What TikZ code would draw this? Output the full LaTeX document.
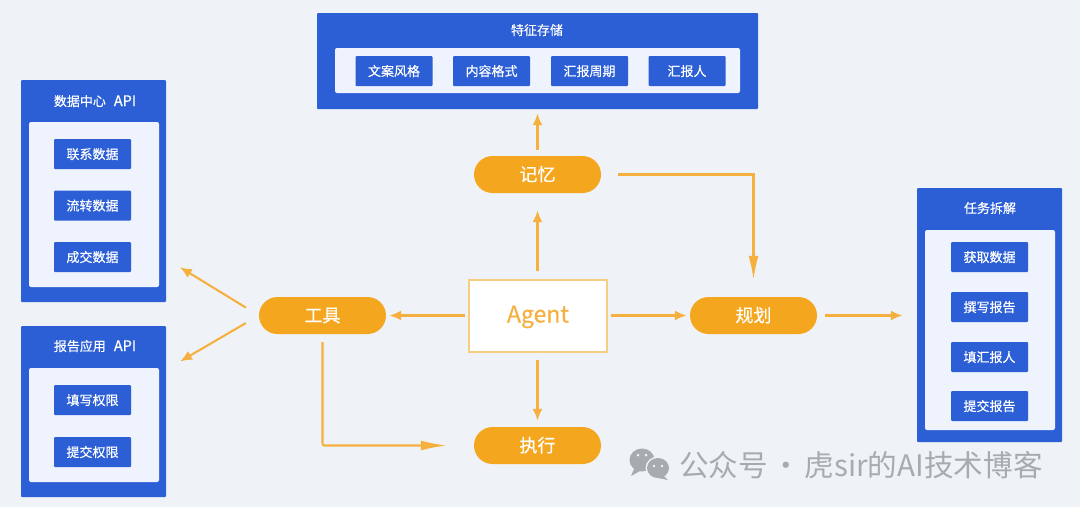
\documentclass[tikz,border=0pt]{standalone}
\usepackage{fontspec}
\setmainfont{Noto Sans CJK SC}
\newfontfamily\heavyfont[FakeBold=0.35]{Noto Sans CJK SC}
\definecolor{PanelBlue}{RGB}{44,95,214}
\definecolor{PanelLight}{RGB}{238,243,253}
\definecolor{PillOrange}{RGB}{245,166,31}
\definecolor{FlowOrange}{RGB}{245,176,64}
\definecolor{AgentBorder}{RGB}{247,205,130}
\definecolor{PageGray}{RGB}{239,243,248}
\definecolor{MarkGray}{RGB}{168,171,173}
\usetikzlibrary{arrows.meta,positioning}
\tikzset{>={Latex[length=12pt,width=10pt]}}
\tikzset{
    outerbox/.style={fill=PanelBlue,rounded corners=1pt,inner sep=0pt},
    innerbox/.style={fill=PanelLight,rounded corners=2pt,inner sep=0pt},
    itembox/.style={fill=PanelBlue,rounded corners=1pt,inner sep=0pt,minimum width=77pt,minimum height=30pt,text=white,text height=11pt,text depth=1pt,font=\heavyfont\fontsize{13}{13}\selectfont},
    boxtitle/.style={text=white,inner sep=0pt,text height=11pt,text depth=1pt,font=\heavyfont\fontsize{13}{13}\selectfont},
    pill/.style={fill=PillOrange,rounded corners=18.5pt,inner sep=0pt,minimum width=127pt,minimum height=37pt,text=white,text height=15pt,text depth=2pt,font=\heavyfont\fontsize{18}{18}\selectfont},
    flow/.style={->,FlowOrange,line width=2.1pt},
}
\newcommand{\apilabel}{\hspace{8pt}{\fontsize{14.5}{14.5}\selectfont API}}
\begin{document}
\begin{tikzpicture}[x=1pt,y=-1pt]
        % page
        \fill[PageGray] (0,0) rectangle (1080,507);
        \useasboundingbox (0,0) rectangle (1080,507);
        % centre
        \node[draw=AgentBorder,fill=white,line width=1.1pt,minimum width=138pt,minimum height=72pt,inner sep=0pt,text=FlowOrange,text height=16pt,text depth=3pt,font=\heavyfont\fontsize{23}{23}\selectfont] at (538,316) (agent) {Agent};
        \node[pill] at (537.5,174.5) (memory) {记忆};
        \node[pill] at (322.5,315.5) (tool) {工具};
        \node[pill] at (753.5,315.5) (plan) {规划};
        \node[pill] at (537.5,445.5) (exec) {执行};
        % top panel
        \node[outerbox,minimum width=441pt,minimum height=96pt] at (537.5,61) (store) {};
        \node[innerbox,minimum width=405pt,minimum height=45pt] at (537.5,70.5) (storein) {};
        \node[boxtitle] at (537,30) (storetitle) {特征存储};
        \node[itembox] at (394,71) (style) {文案风格};
        \node[itembox] at (491.5,71) (format) {内容格式};
        \node[itembox] at (589.5,71) (cycle) {汇报周期};
        \node[itembox] at (687,71) (reporter) {汇报人};
        % left panels
        \node[outerbox,minimum width=145pt,minimum height=222pt] at (93.5,191) (data) {};
        \node[innerbox,minimum width=130pt,minimum height=165pt] at (94,204.5) (datain) {};
        \node[boxtitle] at (95,101) (datatitle) {数据中心\apilabel};
        \node[itembox] at (92.5,154) (contact) {联系数据};
        \node[itembox] at (92.5,205.5) (transfer) {流转数据};
        \node[itembox] at (92.5,257) (deal) {成交数据};
        \node[outerbox,minimum width=145pt,minimum height=171pt] at (93.5,411.5) (report) {};
        \node[innerbox,minimum width=130pt,minimum height=114pt] at (94,425) (reportin) {};
        \node[boxtitle] at (95,346) (reporttitle) {报告应用\apilabel};
        \node[itembox] at (92.5,400) (writeperm) {填写权限};
        \node[itembox] at (92.5,452) (submitperm) {提交权限};
        % right panel
        \node[outerbox,minimum width=145pt,minimum height=254pt] at (989.5,315) (task) {};
        \node[innerbox,minimum width=130pt,minimum height=200pt] at (990,330) (taskin) {};
        \node[boxtitle] at (990,208) (tasktitle) {任务拆解};
        \node[itembox] at (989.5,257) (fetch) {获取数据};
        \node[itembox] at (989.5,307) (draft) {撰写报告};
        \node[itembox] at (989.5,357) (fill) {填汇报人};
        \node[itembox] at (989.5,406) (submit) {提交报告};
        % connectors
        \draw[flow,shorten <=3pt,shorten >=3pt] (agent.west |- tool.east) -- (tool.east);
        \draw[flow,shorten <=3pt,shorten >=3pt] (agent.east |- plan.west) -- (plan.west);
        \draw[flow,shorten <=8pt,shorten >=17pt] (agent.north -| memory.south) -- (memory.south);
        \draw[flow,shorten <=7pt,shorten >=6pt] (agent.south -| exec.north) -- (exec.north);
        \draw[flow,shorten <=6pt,shorten >=4pt] (memory.north) -- (store.south -| memory.north);
        \draw[flow,shorten <=8pt,shorten >=14pt] (plan.east) -- (task.west |- plan.east);
        \draw[flow,shorten <=15pt,shorten >=16pt] (tool.west) -- (data.-43.6);
        \draw[flow,shorten <=15pt,shorten >=16pt] (tool.west) -- (report.30.5);
        \draw[flow,rounded corners=2pt,shorten <=8pt,shorten >=27pt,-{Latex[length=26pt,width=10pt]}] (tool.south) |- (exec.west);
        \draw[flow,shorten <=17pt,shorten >=17pt,-{Latex[length=24pt,width=10pt]}] (memory.east) -| (plan.north);
        % watermark
        \begin{scope}
            \fill[MarkGray] (642,460) ellipse (12.5 and 11.5);
            \fill[MarkGray] (634,469) -- (631,476) -- (640,471) -- cycle;
            \fill[PageGray] (658,468) ellipse (12.5 and 11.5);
            \fill[MarkGray] (658,468) ellipse (11 and 10);
            \fill[MarkGray] (664,476) -- (668,480) -- (658,478) -- cycle;
            \foreach \px/\py/\pr in {638/455/1.5,646/455/1.5,654/466/1.3,662/466/1.3}
                \fill[PageGray] (\px,\py) circle (\pr);
        \end{scope}
        \node[text=MarkGray,inner sep=0pt,anchor=west,text height=25pt,text depth=3pt,font=\fontsize{29.6}{29.6}\selectfont] at (679,465) (mark) {公众号\hspace{-3pt} · \hspace{-3pt}虎sir的AI技术博客};
    \end{tikzpicture}
\end{document}
